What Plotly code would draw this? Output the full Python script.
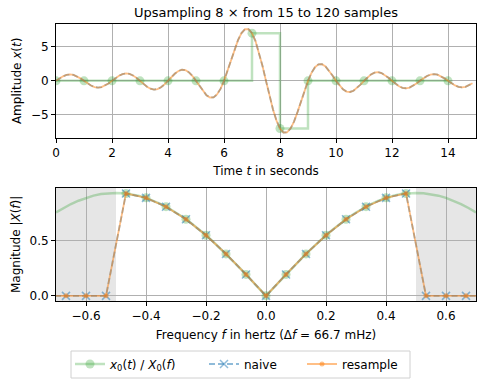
import numpy as np
import plotly.graph_objects as go
from plotly.subplots import make_subplots

# ---- data: original 15 samples ----
t0 = [0, 1, 2, 3, 4, 5, 6, 7, 8, 9, 10, 11, 12, 13, 14]
x0 = [0, 0, 0, 0, 0, 0, 0, 7, -7, 0, 0, 0, 0, 0, 0]

# ---- upsampled signal, 120 samples at 1/8 s ----
t1 = np.arange(120) / 8
x_resample = [
    0.000, 0.359, 0.665, 0.870, 0.944, 0.875, 0.672, 0.365,
    0.000, -0.370, -0.688, -0.905, -0.988, -0.921, -0.712, -0.390,
    0.000, 0.399, 0.747, 0.990, 1.088, 1.021, 0.795, 0.438,
    0.000, -0.456, -0.860, -1.150, -1.274, -1.207, -0.949, -0.528,
    0.000, 0.562, 1.073, 1.452, 1.631, 1.567, 1.251, 0.708,
    0.000, -0.782, -1.527, -2.117, -2.444, -2.422, -2.002, -1.180,
    0.000, 1.447, 3.030, 4.595, 5.975, 7.013, 7.580, 7.587,
    7.000, 5.843, 4.196, 2.192, 0.000, -2.192, -4.196, -5.843,
    -7.000, -7.587, -7.580, -7.013, -5.975, -4.595, -3.030, -1.447,
    0.000, 1.180, 2.002, 2.422, 2.444, 2.117, 1.527, 0.782,
    0.000, -0.708, -1.251, -1.567, -1.631, -1.452, -1.073, -0.562,
    0.000, 0.528, 0.949, 1.207, 1.274, 1.150, 0.860, 0.456,
    0.000, -0.438, -0.795, -1.021, -1.088, -0.990, -0.747, -0.399,
    0.000, 0.390, 0.712, 0.921, 0.988, 0.905, 0.688, 0.370,
    0.000, -0.365, -0.672, -0.875, -0.944, -0.870, -0.665, -0.359,
]
x_naive = [
    0.000, 0.359, 0.665, 0.870, 0.944, 0.875, 0.672, 0.365,
    0.000, -0.370, -0.688, -0.905, -0.988, -0.921, -0.712, -0.390,
    0.000, 0.399, 0.747, 0.990, 1.088, 1.021, 0.795, 0.438,
    0.000, -0.456, -0.860, -1.150, -1.274, -1.207, -0.949, -0.528,
    0.000, 0.562, 1.073, 1.452, 1.631, 1.567, 1.251, 0.708,
    0.000, -0.782, -1.527, -2.117, -2.444, -2.422, -2.002, -1.180,
    0.000, 1.447, 3.030, 4.595, 5.975, 7.013, 7.580, 7.587,
    7.000, 5.843, 4.196, 2.192, 0.000, -2.192, -4.196, -5.843,
    -7.000, -7.587, -7.580, -7.013, -5.975, -4.595, -3.030, -1.447,
    0.000, 1.180, 2.002, 2.422, 2.444, 2.117, 1.527, 0.782,
    0.000, -0.708, -1.251, -1.567, -1.631, -1.452, -1.073, -0.562,
    0.000, 0.528, 0.949, 1.207, 1.274, 1.150, 0.860, 0.456,
    0.000, -0.438, -0.795, -1.021, -1.088, -0.990, -0.747, -0.399,
    0.000, 0.390, 0.712, 0.921, 0.988, 0.905, 0.688, 0.370,
    0.000, -0.365, -0.672, -0.875, -0.944, -0.870, -0.665, -0.359,
]

# ---- spectra ----
f0 = [-0.4667, -0.4, -0.3333, -0.2667, -0.2, -0.1333, -0.0667, 0.0,
      0.0667, 0.1333, 0.2, 0.2667, 0.3333, 0.4, 0.4667]
X0_mag = [0.928, 0.888, 0.808, 0.694, 0.549, 0.380, 0.194, 0.0,
          0.194, 0.380, 0.549, 0.694, 0.808, 0.888, 0.928]

f1 = [-0.7333, -0.6667, -0.6, -0.5333, -0.4667, -0.4, -0.3333, -0.2667,
      -0.2, -0.1333, -0.0667, 0.0, 0.0667, 0.1333, 0.2, 0.2667,
      0.3333, 0.4, 0.4667, 0.5333, 0.6, 0.6667, 0.7333]
X1_naive = [0, 0, 0, 0, 0.928, 0.888, 0.808, 0.694, 0.549, 0.380, 0.194, 0.0,
            0.194, 0.380, 0.549, 0.694, 0.808, 0.888, 0.928, 0, 0, 0, 0]
X1_resample = [0, 0, 0, 0, 0.928, 0.888, 0.808, 0.694, 0.549, 0.380, 0.194, 0.0,
               0.194, 0.380, 0.549, 0.694, 0.808, 0.888, 0.928, 0, 0, 0, 0]

f_cont = [-0.7, -0.675, -0.65, -0.625, -0.6, -0.575, -0.55, -0.525, -0.5,
          -0.475, -0.45, -0.425, -0.4, -0.375, -0.35, -0.325, -0.3, -0.275,
          -0.25, -0.225, -0.2, -0.175, -0.15, -0.125, -0.1, -0.075, -0.05,
          -0.025, 0.0, 0.025, 0.05, 0.075, 0.1, 0.125, 0.15, 0.175, 0.2,
          0.225, 0.25, 0.275, 0.3, 0.325, 0.35, 0.375, 0.4, 0.425, 0.45,
          0.475, 0.5, 0.525, 0.55, 0.575, 0.6, 0.625, 0.65, 0.675, 0.7]
X0_cont = [0.755, 0.796, 0.832, 0.862, 0.888, 0.908, 0.922, 0.930, 0.933,
           0.930, 0.922, 0.908, 0.888, 0.862, 0.832, 0.796, 0.755, 0.710,
           0.660, 0.606, 0.549, 0.488, 0.424, 0.357, 0.288, 0.218, 0.146,
           0.073, 0.0, 0.073, 0.146, 0.218, 0.288, 0.357, 0.424, 0.488, 0.549,
           0.606, 0.660, 0.710, 0.755, 0.796, 0.832, 0.862, 0.888, 0.908, 0.922,
           0.930, 0.933, 0.930, 0.922, 0.908, 0.888, 0.862, 0.832, 0.796, 0.755]

GREEN = "rgba(44,160,44,0.3)"
BLUE = "rgba(31,119,180,0.5)"
ORANGE = "rgba(255,127,14,0.5)"
FONT = "DejaVu Sans"
W, H = 480, 384
ML, MR, MT, MB = 56, 4, 24, 83

fig = make_subplots(rows=2, cols=1)

# top panel
fig.add_trace(go.Scatter(x=t0, y=x0, mode="lines+markers", line_shape="hv",
                         line=dict(color=GREEN, width=2.5),
                         marker=dict(color=GREEN, size=9, symbol="circle"),
                         name="<i>x</i><sub>0</sub>(<i>t</i>) / <i>X</i><sub>0</sub>(<i>f</i>)",
                         showlegend=True, legend="legend"), row=1, col=1)
fig.add_trace(go.Scatter(x=t1, y=x_naive, mode="lines",
                         line=dict(color=BLUE, width=1.8, dash="6px,3px"),
                         showlegend=False), row=1, col=1)
fig.add_trace(go.Scatter(x=t1, y=x_resample, mode="lines",
                         line=dict(color=ORANGE, width=1.8),
                         showlegend=False), row=1, col=1)

# bottom panel
fig.add_trace(go.Scatter(x=f_cont, y=X0_cont, mode="lines",
                         line=dict(color=GREEN, width=2.5), showlegend=False), row=2, col=1)
fig.add_trace(go.Scatter(x=f0, y=X0_mag, mode="markers",
                         marker=dict(color=GREEN, size=9), showlegend=False), row=2, col=1)
fig.add_trace(go.Scatter(x=f1, y=X1_naive, mode="lines+markers", name="naive", legend="legend2",
                         line=dict(color=BLUE, width=1.8, dash="6px,3px"),
                         marker=dict(symbol="x-thin", size=8, line=dict(color=BLUE, width=1.5), color=BLUE)),
              row=2, col=1)
fig.add_trace(go.Scatter(x=f1, y=X1_resample, mode="lines+markers", name="resample", legend="legend3",
                         line=dict(color=ORANGE, width=1.8),
                         marker=dict(symbol="circle", size=5, color=ORANGE)),
              row=2, col=1)

# shaded regions beyond Nyquist
for a, b in [(-1.0, -0.5), (0.5, 1.0)]:
    fig.add_shape(type="rect", xref="x2", yref="y2 domain", x0=a, x1=b, y0=0, y1=1,
                  fillcolor="rgba(128,128,128,0.2)", line_width=0, layer="below")

# legend frame (paper coordinates derived from pixel box)
pw, ph = W - ML - MR, H - MT - MB
fig.add_shape(type="rect", xref="paper", yref="paper",
              x0=(71 - ML) / pw, x1=(410 - ML) / pw,
              y0=(H - MB - 378) / ph, y1=(H - MB - 351) / ph,
              line=dict(color="#d0d0d0", width=1), fillcolor="white", layer="above")

axis_common = dict(showline=True, linecolor="black", linewidth=1, mirror=True,
                   ticks="outside", ticklen=4, tickcolor="black",
                   showgrid=True, gridcolor="#b0b0b0", gridwidth=0.8,
                   zeroline=False, automargin=False,
                   tickfont=dict(size=12, color="black"))

fig.update_xaxes(**axis_common)
fig.update_yaxes(**axis_common)

TF = dict(size=12)
fig.update_xaxes(range=[0, 15], dtick=2, tick0=0, domain=[0, 1], row=1, col=1,
                 title=dict(text="Time <i>t</i> in seconds", font=TF, standoff=7))
fig.update_yaxes(range=[-8.35, 8.35], tickvals=[-5, 0, 5], domain=[0.5895, 1.0], row=1, col=1,
                 title=dict(text="Amplitude <i>x</i>(<i>t</i>)", font=TF, standoff=6))
fig.update_xaxes(range=[-0.7, 0.7], dtick=0.2, tick0=0, tickformat=".1f", domain=[0, 1], row=2, col=1,
                 title=dict(text="Frequency <i>f</i> in hertz (Δ<i>f</i> = 66.7 mHz)",
                            font=TF, standoff=8))
fig.update_yaxes(range=[-0.0467, 0.98], tickvals=[0, 0.5], tickformat=".1f", domain=[0, 0.409],
                 row=2, col=1,
                 title=dict(text="Magnitude |<i>X</i>(<i>f</i>)|", font=TF, standoff=6))

LEG = dict(orientation="h", xanchor="left", yanchor="middle", xref="container", yref="container",
           y=(H - 364) / H, bgcolor="rgba(0,0,0,0)", borderwidth=0, font=dict(size=12))
fig.update_layout(
    width=W, height=H,
    margin=dict(l=ML, r=MR, t=MT, b=MB, autoexpand=False),
    paper_bgcolor="white", plot_bgcolor="white",
    font=dict(family=FONT, size=12, color="black"),
    title=dict(text="Upsampling 8 × from 15 to 120 samples", x=266 / W, xanchor="center",
               xref="container", yref="container",
               y=1 - 12 / H, yanchor="middle", font=dict(size=13)),
    legend=dict(LEG, x=(70) / W),
    legend2=dict(LEG, x=(204) / W),
    legend3=dict(LEG, x=(302) / W),
)

fig.write_html("out.html", post_script="document.body.style.margin='0';",
               config={"displayModeBar": False})
